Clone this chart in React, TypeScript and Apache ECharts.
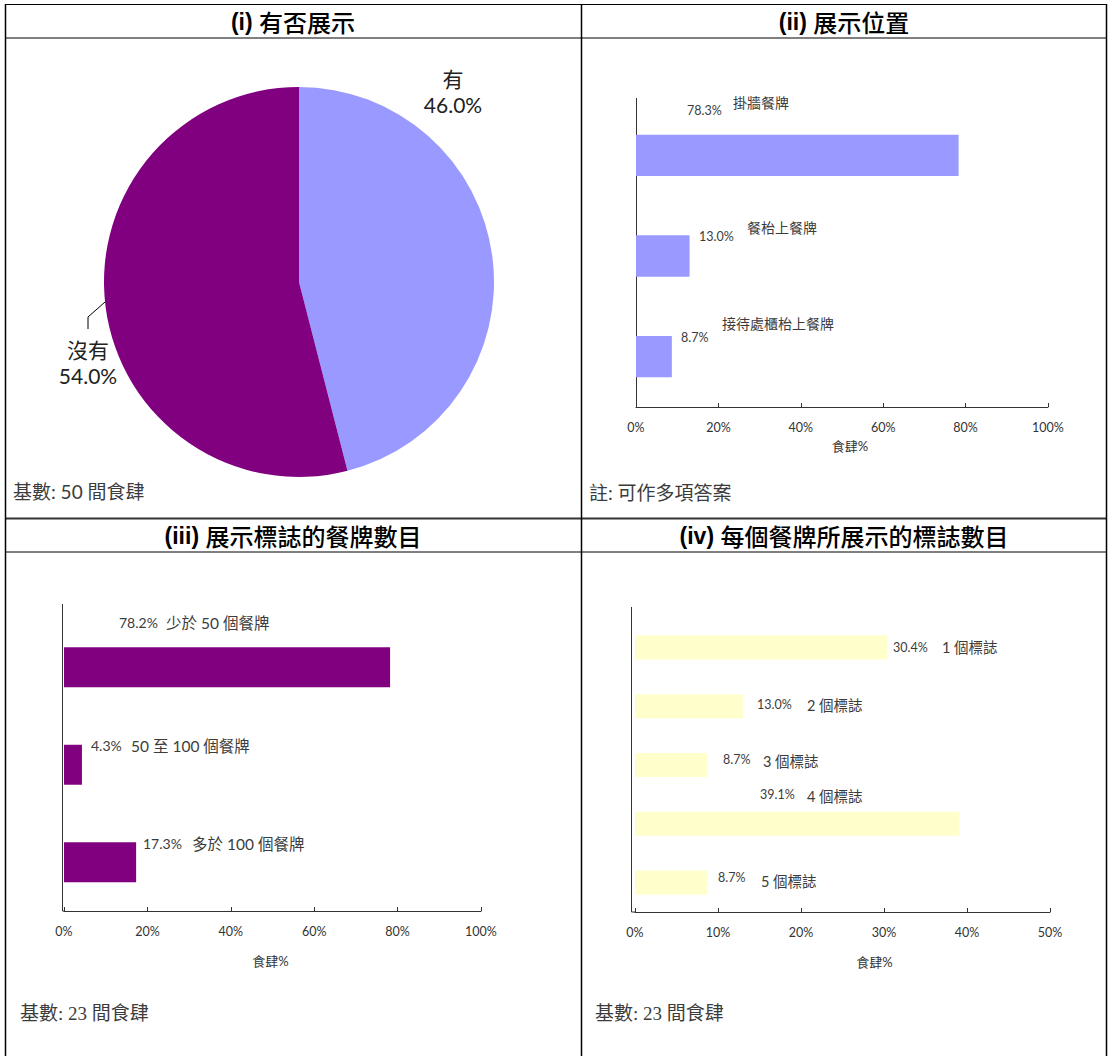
import React, { useEffect, useRef } from 'react';
import * as echarts from 'echarts';

// ---------- data ----------
const PIE_NAMES = ['有', '沒有'];
const PIE_VALUES = [46.0, 54.0];

const LOC_CATEGORIES = ['掛牆餐牌', '餐枱上餐牌', '接待處櫃枱上餐牌'];
const LOC_VALUES = [78.3, 13.0, 8.7];

const MENU_CATEGORIES = ['少於 50 個餐牌', '50 至 100 個餐牌', '多於 100 個餐牌'];
const MENU_VALUES = [78.2, 4.3, 17.3];

const LOGO_CATEGORIES = ['1 個標誌', '2 個標誌', '3 個標誌', '4 個標誌', '5 個標誌'];
const LOGO_VALUES = [30.4, 13.0, 8.7, 39.1, 8.7];

const PANEL_NUMS = ['(i)', '(ii)', '(iii)', '(iv)'];
const PANEL_TITLES = ['有否展示', '展示位置', '展示標誌的餐牌數目', '每個餐牌所展示的標誌數目'];
const PANEL_NOTES = ['基數: 50 間食肆', '註: 可作多項答案', '基數: 23 間食肆', '基數: 23 間食肆'];
const AXIS_NAME = '食肆%';

// ---------- style / layout ----------
const SANS = "Lato, 'Noto Sans CJK TC', sans-serif";
const SERIF = "'Liberation Serif', 'Noto Sans CJK TC', serif";
const HEAD_LATIN = "'Liberation Sans', sans-serif";
const HEAD_CJK = "'Noto Sans CJK TC', sans-serif";
const TXT = '#3c3c3c';
const PIE_COLORS = ['#9999FF', '#800080'];

// label offsets: [valueDx, valueDy, categoryDx, categoryDy] relative to (x of 0, bar centre)
const LOC_LABEL_POS = [[51, -45, 97, -53], [63, -20, 111, -29], [45, -19, 86, -33]];
const MENU_LABEL_POS = [[55, -45, 102, -44], [27, -19.5, 67, -19], [79, -19, 128, -18.5]];
const LOGO_LABEL_POS = [[258, 0, 307, 0], [122, -2, 172, -1], [88, -6, 128, -4], [125, -29, 172, -27], [83, -5, 126, -1]];

function valueAxis(gridIndex: number, max: number, interval: number, nameGap: number, nameShift: number) {
  return {
    type: 'value',
    gridIndex,
    min: 0,
    max,
    interval,
    axisLine: { show: true, lineStyle: { color: '#333', width: 1 } },
    axisTick: { show: true, inside: true, length: 4, lineStyle: { color: '#333' } },
    splitLine: { show: false },
    axisLabel: { formatter: '{value}%', fontSize: 12.5, color: '#333', margin: 14, fontFamily: SANS },
    name: AXIS_NAME,
    nameLocation: 'middle',
    nameGap,
    nameTextStyle: {
      fontSize: 13,
      color: '#333',
      fontFamily: SANS,
      padding: nameShift >= 0 ? [0, 0, 0, nameShift * 2] : [0, -nameShift * 2, 0, 0],
    },
  };
}

function catAxis(gridIndex: number, data: string[]) {
  return {
    type: 'category',
    gridIndex,
    data,
    inverse: true,
    axisLine: { show: false },
    axisTick: { show: false },
    axisLabel: { show: false },
    splitLine: { show: false },
  };
}

function buildOption() {
  return {
    animation: false,
    backgroundColor: '#fff',
    textStyle: { fontFamily: SANS },
    grid: [
      { left: 636, top: 105, width: 412, height: 302 },
      { left: 64, top: 618.5, width: 417, height: 292.5 },
      { left: 635, top: 618, width: 415, height: 294 },
    ],
    xAxis: [valueAxis(0, 100, 20, 32, 8), valueAxis(1, 100, 20, 43, -2), valueAxis(2, 50, 10, 43, 32)],
    yAxis: [catAxis(0, LOC_CATEGORIES), catAxis(1, MENU_CATEGORIES), catAxis(2, LOGO_CATEGORIES)],
    series: [
      {
        type: 'pie',
        center: [299, 282],
        radius: 195,
        startAngle: 90,
        clockwise: true,
        silent: true,
        itemStyle: { borderWidth: 0 },
        data: PIE_NAMES.map((n, i) => ({
          name: n,
          value: PIE_VALUES[i],
          itemStyle: { color: PIE_COLORS[i] },
          labelLine: { show: i === 1 },
        })),
        label: {
          show: true,
          position: 'outside',
          overflow: 'none',
          formatter: (p: any) => `${p.name}\n${Number(p.value).toFixed(1)}%`,
          fontSize: 21,
          lineHeight: 26,
          color: '#222',
          fontFamily: SANS,
          align: 'center',
        },
        labelLine: { show: true, lineStyle: { color: '#000', width: 1 } },
        labelLayout: (params: any) =>
          params.dataIndex === 0
            ? { x: 453, y: 91, align: 'center', verticalAlign: 'middle' }
            : {
                x: 88,
                y: 362,
                align: 'center',
                verticalAlign: 'middle',
                labelLinePoints: [[105, 302], [88, 317], [88, 329]],
              },
      },
      {
        type: 'bar',
        xAxisIndex: 0,
        yAxisIndex: 0,
        data: LOC_VALUES,
        barWidth: '41%',
        itemStyle: { color: '#9999FF' },
        silent: true,
      },
      {
        type: 'bar',
        xAxisIndex: 1,
        yAxisIndex: 1,
        data: MENU_VALUES,
        barWidth: '41%',
        itemStyle: { color: '#800080' },
        silent: true,
      },
      {
        type: 'bar',
        xAxisIndex: 2,
        yAxisIndex: 2,
        data: LOGO_VALUES,
        barWidth: '41%',
        itemStyle: { color: '#FFFFCC' },
        silent: true,
      },
    ],
  };
}

function line(x1: number, y1: number, x2: number, y2: number, width = 1, color = '#000') {
  return { type: 'line', silent: true, shape: { x1, y1, x2, y2 }, style: { stroke: color, lineWidth: width } };
}

function text(x: number, y: number, t: string, fontSize: number, fontFamily: string, extra: any = {}) {
  return {
    type: 'text',
    silent: true,
    x,
    y,
    style: { text: t, fontSize, fontFamily, fill: TXT, align: 'left', verticalAlign: 'middle', ...extra },
  };
}

function header(x: number, y: number, i: number) {
  return {
    type: 'text',
    silent: true,
    x,
    y,
    style: {
      text: `{n|${PANEL_NUMS[i]}} {c|${PANEL_TITLES[i]}}`,
      align: 'center',
      verticalAlign: 'middle',
      fill: '#000',
      fontSize: 23,
      fontFamily: HEAD_LATIN,
      rich: {
        n: { fontSize: 23, fontFamily: HEAD_LATIN, fontWeight: 'bold', fill: '#000' },
        c: { fontSize: 24, fontFamily: HEAD_CJK, fontWeight: 500, fill: '#000' },
      },
    },
  };
}

function barLabels(chart: any, gridIndex: number, values: number[], cats: string[], pos: number[][], valSize: number, catSize: number) {
  const out: any[] = [];
  values.forEach((v, i) => {
    const [x0, yc] = chart.convertToPixel({ gridIndex }, [0, i]);
    const p = pos[i];
    out.push(text(x0 + p[0], yc + p[1], `${v.toFixed(1)}%`, valSize, SANS));
    out.push(text(x0 + p[2], yc + p[3], cats[i], catSize, SANS));
  });
  return out;
}

function buildGraphics(chart: any) {
  const els: any[] = [];
  // table borders
  els.push(line(5, 4.5, 1107, 4.5));
  els.push(line(5, 38, 1107, 38));
  els.push(line(5, 518.5, 1107, 518.5, 2, '#333'));
  els.push(line(5, 552, 1107, 552));
  els.push(line(5.5, 4, 5.5, 1056, 1.5));
  els.push(line(581.5, 4, 581.5, 1056, 1.5));
  els.push(line(1106.5, 4, 1106.5, 1056, 1.5));

  // headers
  els.push(header(293, 21.5, 0));
  els.push(header(844, 21.5, 1));
  els.push(header(293, 535.5, 2));
  els.push(header(844, 535.5, 3));

  // notes
  els.push(text(13, 491, PANEL_NOTES[0], 19, SANS));
  els.push(text(589, 492, PANEL_NOTES[1], 19, SANS));
  els.push(text(20, 1013, PANEL_NOTES[2], 19, SERIF));
  els.push(text(595, 1013, PANEL_NOTES[3], 19, SERIF));

  // vertical axis lines (extend above the plot area as in the original)
  els.push(line(636.5, 98, 636.5, 407, 1, '#333'));
  els.push(line(62.5, 604, 62.5, 911, 1, '#333'));
  els.push(line(62.5, 911, 64, 911, 1, '#333'));
  els.push(line(631.5, 607, 631.5, 912, 1, '#333'));
  els.push(line(631.5, 912, 635, 912, 1, '#333'));

  // bar labels
  els.push(...barLabels(chart, 0, LOC_VALUES, LOC_CATEGORIES, LOC_LABEL_POS, 12.5, 14));
  els.push(...barLabels(chart, 1, MENU_VALUES, MENU_CATEGORIES, MENU_LABEL_POS, 14, 15.5));
  els.push(...barLabels(chart, 2, LOGO_VALUES, LOGO_CATEGORIES, LOGO_LABEL_POS, 12.5, 14.5));
  return els;
}

export default function App() {
  const ref = useRef<HTMLDivElement>(null);
  useEffect(() => {
    if (!ref.current) return;
    const chart = echarts.init(ref.current, undefined, { renderer: 'svg' });
    chart.setOption(buildOption() as any);
    chart.setOption({ graphic: { elements: buildGraphics(chart) } } as any);
    return () => chart.dispose();
  }, []);
  return (
    <div
      ref={ref}
      style={{ position: 'absolute', left: 0, top: 0, width: 1108, height: 1056, background: '#fff' }}
    />
  );
}
